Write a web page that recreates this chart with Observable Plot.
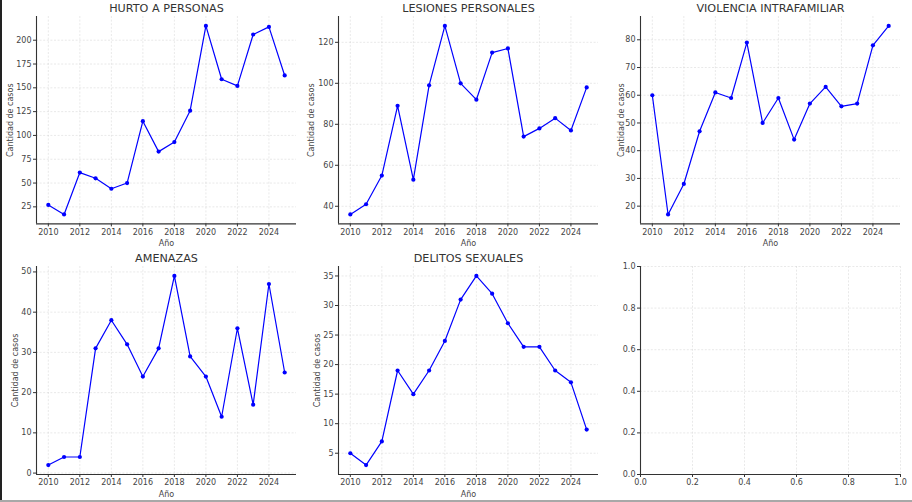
<!DOCTYPE html>
<html><head><meta charset="utf-8">
<script src="https://cdn.jsdelivr.net/npm/d3@7"></script>
<script src="https://cdn.jsdelivr.net/npm/@observablehq/plot@0.6"></script>
<style>
html,body{margin:0;padding:0;background:#fff;}
#wrap{position:relative;width:912px;height:502px;overflow:hidden;font-family:"DejaVu Sans",sans-serif;background:#fff;}
#wrap .edgeL{position:absolute;left:0;top:0;width:1.5px;height:500px;background:#222;}
#wrap .edgeB{position:absolute;left:0;top:500px;width:912px;height:2px;background:#a8a8a8;}
.panel{position:absolute;}
</style></head><body><div id="wrap"><div class="edgeL"></div><div class="edgeB"></div></div>
<script>
const years = [2010,2011,2012,2013,2014,2015,2016,2017,2018,2019,2020,2021,2022,2023,2024,2025];
const hurto = [27,17,61,55,44,50,115,83,93,126,215,159,152,206,214,163];
const lesiones = [36,41,55,89,53,99,128,100,92,115,117,74,78,83,77,98];
const violencia = [60,17,28,47,61,59,79,50,59,44,57,63,56,57,78,85];
const amenazas = [2,4,4,31,38,32,24,31,49,29,24,14,36,17,47,25];
const delitos = [5,3,7,19,15,19,24,31,35,32,27,23,23,19,17,9];
const titles = ["HURTO A PERSONAS","LESIONES PERSONALES","VIOLENCIA INTRAFAMILIAR","AMENAZAS","DELITOS SEXUALES"];
const xTicks = [2010,2012,2014,2016,2018,2020,2022,2024];
const yTicksList = [
  [25,50,75,100,125,150,175,200],
  [40,60,80,100,120],
  [20,30,40,50,60,70,80],
  [0,10,20,30,40,50],
  [5,10,15,20,25,30,35]
];
const emptyTicks = [0,0.2,0.4,0.6,0.8,1.0];
const xLabel = "Año";
const yLabel = "Cantidad de casos";

const wrap = document.getElementById("wrap");
const gridStyle = {stroke:"#c4c4c4", strokeOpacity:0.75, strokeDasharray:"2,1.6", strokeWidth:0.5};
const spine = {stroke:"#333", strokeWidth:1.1};
const baseStyle = {fontFamily:"DejaVu Sans, sans-serif", fontSize:"8px", color:"#333", background:"transparent", overflow:"visible"};

function place(svg, left, top) {
  const d = document.createElement("div");
  d.className = "panel";
  d.style.left = left + "px";
  d.style.top = top + "px";
  d.appendChild(svg);
  wrap.appendChild(d);
}

function panel(title, values, yTicks, left, top, height, plotH, yLabOff) {
  const data = years.map((y, i) => ({year: y, value: values[i]}));
  const [x0, x1] = d3.extent(years), px = (x1 - x0) * 0.05;
  const [y0, y1] = d3.extent(values), py = (y1 - y0) * 0.05;
  const xd = [x0 - px, x1 + px], yd = [y0 - py, y1 + py];
  const chart = Plot.plot({
    width: 300, height,
    marginLeft: 36, marginRight: 4, marginTop: 16, marginBottom: height - 16 - plotH,
    style: baseStyle,
    x: {domain: xd}, y: {domain: yd},
    marks: [
      Plot.gridX(xTicks, gridStyle),
      Plot.gridY(yTicks, gridStyle),
      Plot.axisX(xTicks, {tickSize: 3, tickPadding: 2, tickFormat: d => String(d), fill: "#444",
        label: xLabel, labelAnchor: "center", labelArrow: "none", labelOffset: 22}),
      Plot.axisY(yTicks, {tickSize: 3, tickPadding: 2, fill: "#444",
        label: yLabel, labelAnchor: "center", labelArrow: "none", labelOffset: yLabOff}),
      Plot.ruleX([xd[0]], spine),
      Plot.ruleY([yd[0]], spine),
      Plot.line(data, {x: "year", y: "value", stroke: "#0000ff", strokeWidth: 1.2}),
      Plot.dot(data, {x: "year", y: "value", fill: "#0000ff", r: 2.1}),
      Plot.text([title], {frameAnchor: "top", dy: -8, lineAnchor: "middle", fontSize: 11.2, fill: "#333", fontWeight: "normal"})
    ]
  });
  place(chart, left, top);
}

function emptyPanel(left, top, height, plotH) {
  const chart = Plot.plot({
    width: 300, height,
    marginLeft: 36, marginRight: 4, marginTop: 16, marginBottom: height - 16 - plotH,
    style: baseStyle,
    x: {domain: [0, 1]}, y: {domain: [0, 1]},
    marks: [
      Plot.gridX(emptyTicks, gridStyle),
      Plot.gridY(emptyTicks, gridStyle),
      Plot.axisX(emptyTicks, {tickSize: 3, tickPadding: 2, tickFormat: d3.format(".1f"), fill: "#444", label: null}),
      Plot.axisY(emptyTicks, {tickSize: 3, tickPadding: 2, tickFormat: d3.format(".1f"), fill: "#444", label: null}),
      Plot.ruleX([0], spine),
      Plot.ruleY([0], spine)
    ]
  });
  place(chart, left, top);
}

const series = [hurto, lesiones, violencia, amenazas, delitos];
const lefts = [0, 302, 604];
const tops = [0, 250];
const heights = [250, 252];
const plotHs = [207.4, 208];
const yLabOffs = [29, 30, 22, 24, 24];
series.forEach((vals, i) => {
  const r = Math.floor(i / 3), c = i % 3;
  panel(titles[i], vals, yTicksList[i], lefts[c], tops[r], heights[r], plotHs[r], yLabOffs[i]);
});
emptyPanel(lefts[2], tops[1], heights[1], plotHs[1]);
</script>
</body></html>
